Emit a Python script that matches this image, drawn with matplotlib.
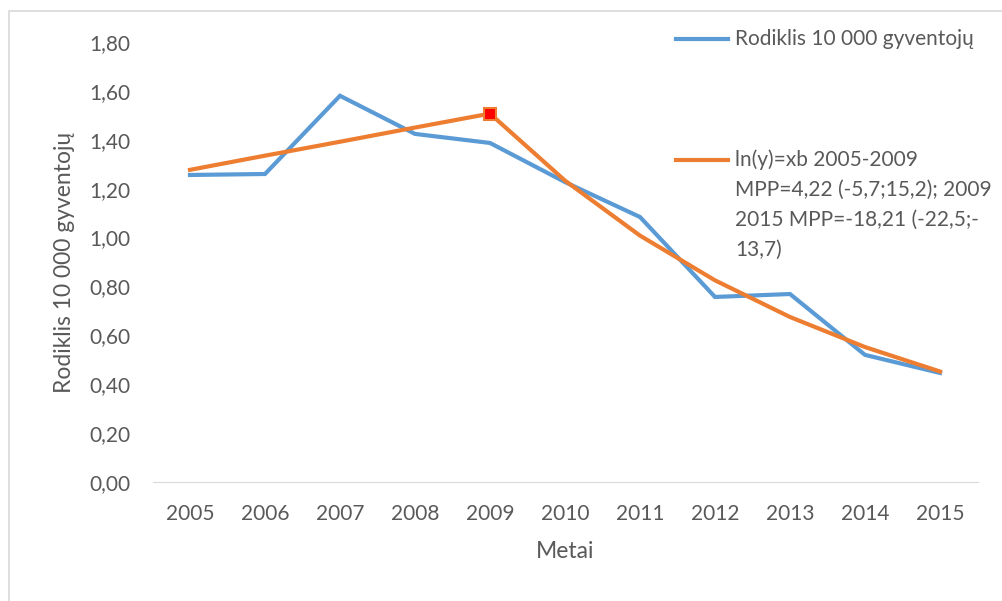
import matplotlib
matplotlib.use("Agg")
import matplotlib.pyplot as plt
from matplotlib.lines import Line2D
from matplotlib.patches import Rectangle
from matplotlib.ticker import FuncFormatter

plt.rcParams['font.family'] = ['Lato', 'DejaVu Sans']

metai = ['2005', '2006', '2007', '2008', '2009', '2010',
         '2011', '2012', '2013', '2014', '2015']
rodiklis = [1.256, 1.260, 1.580, 1.424, 1.387, 1.227,
            1.084, 0.757, 0.769, 0.520, 0.446]
# joinpoint modelio reiksmes
modelis = [1.277, 1.335, 1.392, 1.450, 1.507, 1.233,
           1.008, 0.825, 0.675, 0.552, 0.452]
lauzimo_metai = '2009'

label1 = 'Rodiklis 10 000 gyventojų'
label2 = ('ln(y)=xb 2005-2009\nMPP=4,22 (-5,7;15,2); 2009\n'
          '2015 MPP=-18,21 (-22,5;-\n13,7)')

blue = '#5b9bd5'
orange = '#ed7d31'
grey = '#595959'

W, H = 1002, 601
fig = plt.figure(figsize=(W / 100, H / 100), dpi=100)
ax = fig.add_axes([152.5 / W, 1 - 482 / H, 825 / W, 440 / H])

x = list(range(len(metai)))
ax.plot(x, rodiklis, color=blue, lw=3, solid_joinstyle='miter')
ax.plot(x, modelis, color=orange, lw=3, solid_joinstyle='miter')
k = metai.index(lauzimo_metai)
ax.plot([k], [modelis[k]], 's', ms=8.5, mfc='#ff0000', mec=orange, mew=1.5)

ax.set_xlim(-0.5, len(metai) - 0.5)
ax.set_ylim(0, 1.8)
ax.set_xticks(x)
ax.set_xticklabels(metai)
ax.set_yticks([i * 0.2 for i in range(10)])
ax.yaxis.set_major_formatter(FuncFormatter(lambda v, p: f'{v:.2f}'.replace('.', ',')))
ax.tick_params(length=0, colors=grey, labelsize=15)
ax.tick_params(axis='y', pad=16)
ax.tick_params(axis='x', pad=16)
for s in ['top', 'right', 'left']:
    ax.spines[s].set_visible(False)
ax.spines['bottom'].set_color('#d9d9d9')
ax.patch.set_alpha(0)

ax.set_xlabel('Metai', fontsize=16.5, color=grey, labelpad=12)
ax.set_ylabel(label1, fontsize=16.5, color=grey, labelpad=10)

# legenda
def fx(px):
    return px / W

def fy(py):
    return 1 - py / H

fig.add_artist(Line2D([fx(676), fx(728)], [fy(39), fy(39)], color=blue, lw=3))
fig.text(fx(735), fy(39), label1, fontsize=15, color=grey, va='center')
fig.add_artist(Line2D([fx(676), fx(728)], [fy(160), fy(160)], color=orange, lw=3))
fig.text(fx(735), fy(149), label2, fontsize=15, color=grey, va='top',
         linespacing=1.64)

# remelis
fig.add_artist(Rectangle((fx(9), -0.1), 1.2, fy(11) + 0.1, fill=False,
                         ec='#d9d9d9', lw=1.2, transform=fig.transFigure))

fig.savefig('out.png', dpi=100)
